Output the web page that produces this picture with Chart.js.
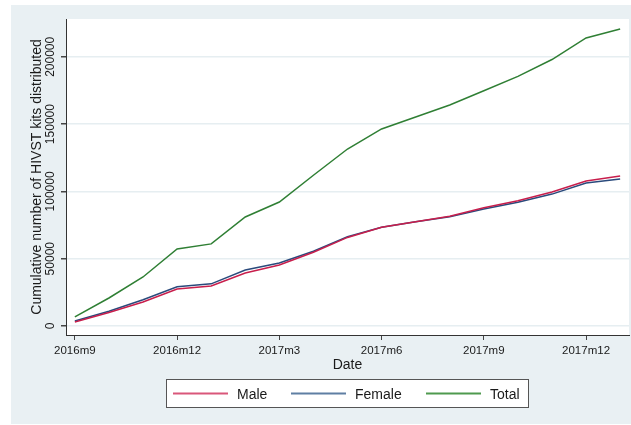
<!DOCTYPE html>
<html>
<head>
<meta charset="utf-8">
<script src="https://cdn.jsdelivr.net/npm/chart.js@4"></script>
<style>
  html, body { margin: 0; padding: 0; background: #ffffff; }
  #wrap { position: absolute; left: 11px; top: 5px; width: 620px; height: 419px; }
</style>
</head>
<body>
<div id="wrap"><canvas id="chart" width="620" height="419"></canvas></div>
<script>
// monthly points, 2016m9 .. 2018m1
const months = ['2016m9','2016m10','2016m11','2016m12','2017m1','2017m2','2017m3','2017m4','2017m5',
  '2017m6','2017m7','2017m8','2017m9','2017m10','2017m11','2017m12','2018m1'];
const xTickIdx = [0, 3, 6, 9, 12, 15];
const yTicks = [0, 50000, 100000, 150000, 200000];

const male = [3000, 10000, 17800, 27500, 29700, 39400, 45300, 54800, 65800, 73300, 77500, 81500, 87800, 93000, 99500, 107700, 111400];
const female = [3700, 11000, 19500, 29200, 31300, 41600, 46800, 55500, 66300, 73300, 77500, 81200, 87000, 92000, 98000, 106200, 109200];
const total = [6700, 20800, 36400, 57200, 61000, 81000, 92100, 112000, 131500, 146400, 155300, 164200, 174800, 185500, 198000, 214000, 220600];

const seriesNames = ['Male', 'Female', 'Total'];
const seriesColors = ['#c81e4c', '#2a4a7c', '#2f7f34'];
const legendColors = ['#d9577a', '#5f7fa3', '#4f9a4f'];

const FONT = '"Liberation Sans", Arial, Helvetica, sans-serif';

function pts(arr) {
  return arr.map((v, i) => ({ x: i, y: v }));
}

const bgPlugin = {
  id: 'bg',
  beforeDraw(chart) {
    const { ctx, chartArea: a } = chart;
    ctx.save();
    ctx.fillStyle = '#e9f0f3';
    ctx.fillRect(0, 0, chart.width, chart.height);
    ctx.fillStyle = '#ffffff';
    ctx.fillRect(a.left, a.top, a.right - a.left, a.bottom - a.top);
    ctx.restore();
  }
};

const labelPlugin = {
  id: 'labels',
  afterDraw(chart) {
    const { ctx, chartArea: a } = chart;
    const y = chart.scales.y;
    ctx.save();
    ctx.fillStyle = '#1a1a1a';

    // y tick labels, rotated
    ctx.font = '12px ' + FONT;
    ctx.textAlign = 'center';
    ctx.textBaseline = 'middle';
    yTicks.forEach(v => {
      const py = y.getPixelForValue(v);
      ctx.save();
      ctx.translate(40, py);
      ctx.rotate(-Math.PI / 2);
      ctx.fillText(String(v), 0, 0);
      ctx.restore();
    });

    // y title
    ctx.font = '14px ' + FONT;
    ctx.save();
    ctx.translate(26, (a.top + a.bottom) / 2);
    ctx.rotate(-Math.PI / 2);
    ctx.fillText('Cumulative number of HIVST kits distributed', 0, 0);
    ctx.restore();

    // x title
    ctx.fillText('Date', (a.left + a.right) / 2, 360);

    // legend
    const bx = 155, by = 374, bw = 362, bh = 28;
    ctx.fillStyle = '#ffffff';
    ctx.fillRect(bx, by, bw, bh);
    ctx.strokeStyle = '#555555';
    ctx.lineWidth = 1;
    ctx.strokeRect(bx + 0.5, by + 0.5, bw, bh);
    const lineX = [162, 280, 415];
    const ly = 388.5;
    chart.data.datasets.forEach((ds, i) => {
      ctx.strokeStyle = legendColors[i];
      ctx.lineWidth = 2;
      ctx.beginPath();
      ctx.moveTo(lineX[i], ly);
      ctx.lineTo(lineX[i] + 55, ly);
      ctx.stroke();
      ctx.fillStyle = '#1a1a1a';
      ctx.textAlign = 'left';
      ctx.fillText(ds.label, lineX[i] + 64, 390);
    });
    ctx.restore();
  }
};

new Chart(document.getElementById('chart'), {
  type: 'line',
  data: {
    datasets: [
      { label: seriesNames[0], data: pts(male), borderColor: seriesColors[0] },
      { label: seriesNames[1], data: pts(female), borderColor: seriesColors[1] },
      { label: seriesNames[2], data: pts(total), borderColor: seriesColors[2] }
    ]
  },
  options: {
    responsive: false,
    animation: false,
    layout: { padding: { left: 0, top: 14, right: 2, bottom: 69 } },
    elements: {
      line: { borderWidth: 1.5, tension: 0, fill: false },
      point: { radius: 0 }
    },
    plugins: { legend: { display: false }, tooltip: { enabled: false } },
    scales: {
      x: {
        type: 'linear',
        min: -0.26,
        max: 16.26,
        afterBuildTicks: s => { s.ticks = xTickIdx.map(v => ({ value: v })); },
        afterFit: s => { s.height = 20; },
        ticks: {
          autoSkip: false,
          maxRotation: 0,
          padding: 4,
          color: '#1a1a1a',
          font: { family: FONT, size: 11.5 },
          callback: v => months[v]
        },
        grid: { drawOnChartArea: false, tickLength: 5, tickColor: '#444444' },
        border: { color: '#333333', width: 1 }
      },
      y: {
        type: 'linear',
        min: -6700,
        max: 228100,
        afterBuildTicks: s => { s.ticks = yTicks.map(v => ({ value: v })); },
        afterFit: s => { s.width = 55; },
        ticks: { display: false },
        grid: { color: '#e6eef1', lineWidth: 1.5, tickLength: 5, tickColor: '#444444' },
        border: { color: '#333333', width: 1 }
      }
    }
  },
  plugins: [bgPlugin, labelPlugin]
});
</script>
</body>
</html>
